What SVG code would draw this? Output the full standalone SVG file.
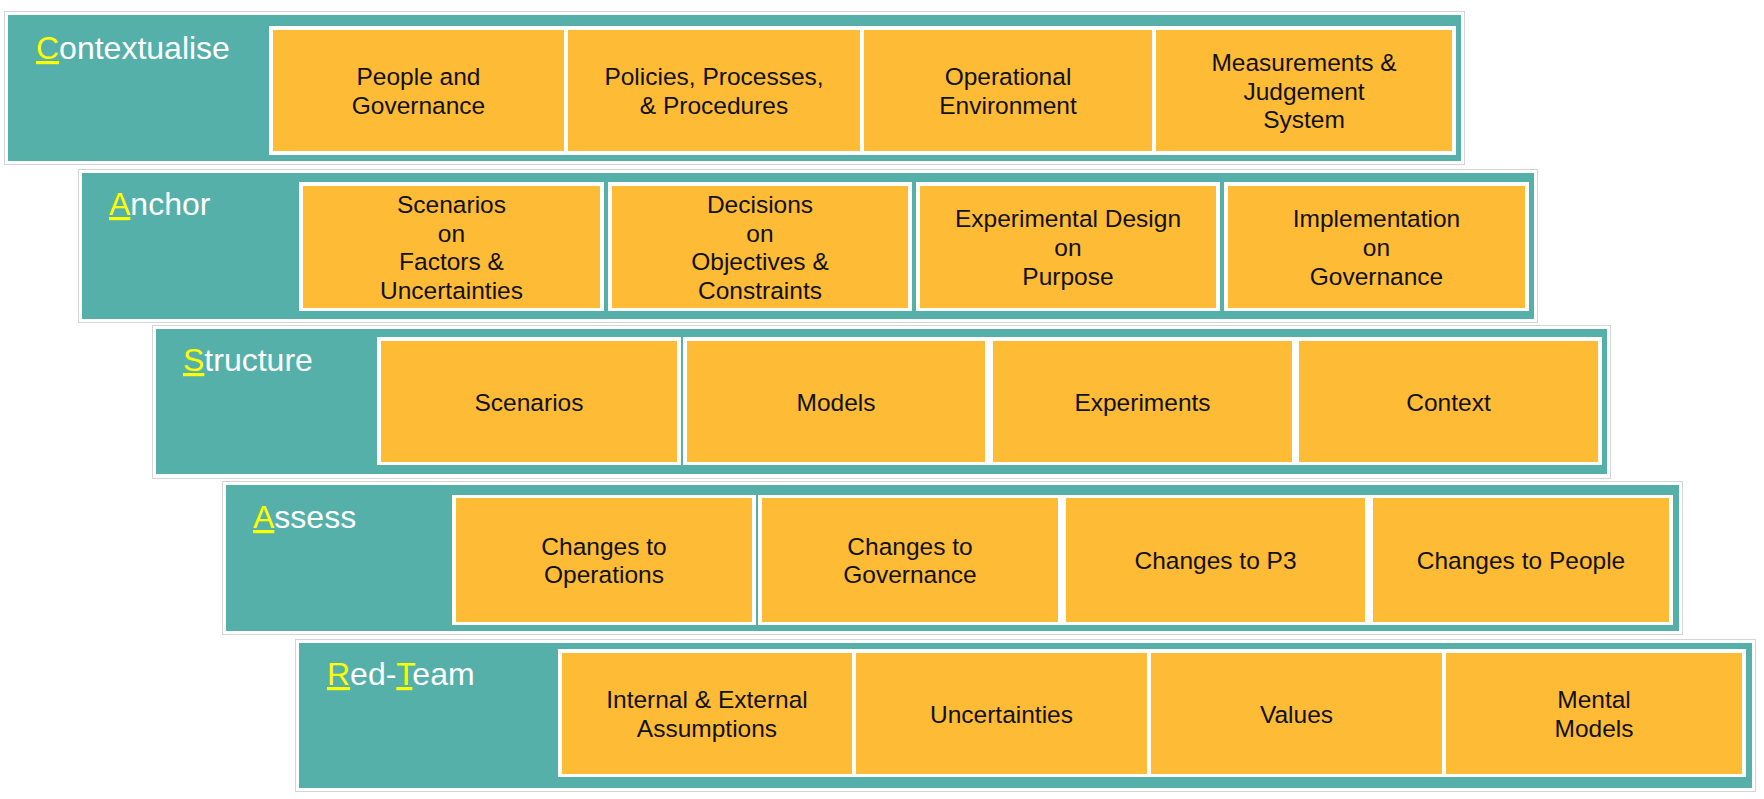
<svg xmlns="http://www.w3.org/2000/svg" width="1764" height="799" viewBox="0 0 1764 799">
<style>
.bg{fill:#ffffff}
.outline{fill:#ffffff;stroke:#d4d4d4;stroke-width:1}
.band{fill:#55B0AA}
.frame{fill:#ffffff}
.box{fill:#FEBB36}
.lbl{font-family:"Liberation Sans",Arial,sans-serif;font-size:32px;fill:#ffffff}
.hl{fill:#FFFF00;text-decoration:underline}
.t{font-family:"Liberation Sans",Arial,sans-serif;font-size:24.5px;fill:#111111;text-anchor:middle}
</style>
<rect class="bg" x="0" y="0" width="1764" height="799"/>

<g id="row-contextualise">
  <rect class="outline" x="4.5" y="11.5" width="1460" height="153"/>
  <rect class="band" x="8" y="15" width="1453" height="146"/>
  <text class="lbl" x="36" y="59"><tspan class="hl">C</tspan>ontextualise</text>
  <rect class="frame" x="269" y="26" width="1187" height="129"/>
</g>
<g id="c1">
  <rect class="box" x="273" y="30" width="291" height="121"/>
  <text class="t"><tspan x="418.5" y="85">People and</tspan><tspan x="418.5" y="114">Governance</tspan></text>
</g>
<g id="c2">
  <rect class="box" x="568" y="30" width="292" height="121"/>
  <text class="t"><tspan x="714" y="85">Policies, Processes,</tspan><tspan x="714" y="114">&amp; Procedures</tspan></text>
</g>
<g id="c3">
  <rect class="box" x="864" y="30" width="288" height="121"/>
  <text class="t"><tspan x="1008" y="85">Operational</tspan><tspan x="1008" y="114">Environment</tspan></text>
</g>
<g id="c4">
  <rect class="box" x="1156" y="30" width="296" height="121"/>
  <text class="t"><tspan x="1304" y="70.7">Measurements &amp;</tspan><tspan x="1304" y="99.5">Judgement</tspan><tspan x="1304" y="128.3">System</tspan></text>
</g>

<g id="row-anchor">
  <rect class="outline" x="78.5" y="169.5" width="1459" height="153"/>
  <rect class="band" x="82" y="173" width="1452" height="146"/>
  <text class="lbl" x="109" y="215"><tspan class="hl">A</tspan>nchor</text>
</g>
<g id="a1">
  <rect class="frame" x="299" y="182" width="305" height="129"/>
  <rect class="box" x="303" y="186" width="297" height="122"/>
  <text class="t"><tspan x="451.5" y="212.8">Scenarios</tspan><tspan x="451.5" y="241.6">on</tspan><tspan x="451.5" y="270.4">Factors &amp;</tspan><tspan x="451.5" y="299.2">Uncertainties</tspan></text>
</g>
<g id="a2">
  <rect class="frame" x="608" y="182" width="304" height="129"/>
  <rect class="box" x="612" y="186" width="296" height="122"/>
  <text class="t"><tspan x="760" y="212.8">Decisions</tspan><tspan x="760" y="241.6">on</tspan><tspan x="760" y="270.4">Objectives &amp;</tspan><tspan x="760" y="299.2">Constraints</tspan></text>
</g>
<g id="a3">
  <rect class="frame" x="916" y="182" width="304" height="129"/>
  <rect class="box" x="920" y="186" width="296" height="122"/>
  <text class="t"><tspan x="1068" y="227.2">Experimental Design</tspan><tspan x="1068" y="256">on</tspan><tspan x="1068" y="284.8">Purpose</tspan></text>
</g>
<g id="a4">
  <rect class="frame" x="1224" y="182" width="305" height="129"/>
  <rect class="box" x="1228" y="186" width="297" height="122"/>
  <text class="t"><tspan x="1376.5" y="227.2">Implementation</tspan><tspan x="1376.5" y="256">on</tspan><tspan x="1376.5" y="284.8">Governance</tspan></text>
</g>

<g id="row-structure">
  <rect class="outline" x="152.5" y="325.5" width="1458" height="153"/>
  <rect class="band" x="156" y="329" width="1451" height="145"/>
  <text class="lbl" x="183" y="371"><tspan class="hl">S</tspan>tructure</text>
  <rect class="frame" x="377" y="337" width="304" height="128"/>
  <rect class="frame" x="683" y="337" width="919" height="128"/>
</g>
<g id="s1">
  <rect class="box" x="381" y="341" width="296" height="121"/>
  <text class="t" x="529" y="410.5">Scenarios</text>
</g>
<g id="s2">
  <rect class="box" x="687" y="341" width="298" height="121"/>
  <text class="t" x="836" y="410.5">Models</text>
</g>
<g id="s3">
  <rect class="box" x="993" y="341" width="299" height="121"/>
  <text class="t" x="1142.5" y="410.5">Experiments</text>
</g>
<g id="s4">
  <rect class="box" x="1299" y="341" width="299" height="121"/>
  <text class="t" x="1448.5" y="410.5">Context</text>
</g>

<g id="row-assess">
  <rect class="outline" x="222.5" y="481.5" width="1460" height="153"/>
  <rect class="band" x="226" y="485" width="1453" height="146"/>
  <text class="lbl" x="253" y="528"><tspan class="hl">A</tspan>ssess</text>
  <rect class="frame" x="452" y="495" width="304" height="130"/>
  <rect class="frame" x="758" y="495" width="915" height="130"/>
</g>
<g id="as1">
  <rect class="box" x="456" y="498" width="296" height="124"/>
  <text class="t"><tspan x="604" y="554.6">Changes to</tspan><tspan x="604" y="583.4">Operations</tspan></text>
</g>
<g id="as2">
  <rect class="box" x="762" y="498" width="296" height="124"/>
  <text class="t"><tspan x="910" y="554.6">Changes to</tspan><tspan x="910" y="583.4">Governance</tspan></text>
</g>
<g id="as3">
  <rect class="box" x="1066" y="498" width="299" height="124"/>
  <text class="t" x="1215.5" y="569">Changes to P3</text>
</g>
<g id="as4">
  <rect class="box" x="1373" y="498" width="296" height="124"/>
  <text class="t" x="1521" y="569">Changes to People</text>
</g>

<g id="row-redteam">
  <rect class="outline" x="295.5" y="639.5" width="1460" height="152"/>
  <rect class="band" x="299" y="643" width="1453" height="145"/>
  <text class="lbl" x="327" y="685"><tspan class="hl">R</tspan>ed-<tspan class="hl">T</tspan>eam</text>
  <rect class="frame" x="558" y="649" width="1188" height="128"/>
</g>
<g id="r1">
  <rect class="box" x="562" y="653" width="290" height="121"/>
  <text class="t"><tspan x="707" y="708.1">Internal &amp; External</tspan><tspan x="707" y="736.9">Assumptions</tspan></text>
</g>
<g id="r2">
  <rect class="box" x="856" y="653" width="291" height="121"/>
  <text class="t" x="1001.5" y="722.5">Uncertainties</text>
</g>
<g id="r3">
  <rect class="box" x="1151" y="653" width="291" height="121"/>
  <text class="t" x="1296.5" y="722.5">Values</text>
</g>
<g id="r4">
  <rect class="box" x="1446" y="653" width="296" height="121"/>
  <text class="t"><tspan x="1594" y="708.1">Mental</tspan><tspan x="1594" y="736.9">Models</tspan></text>
</g>
</svg>
